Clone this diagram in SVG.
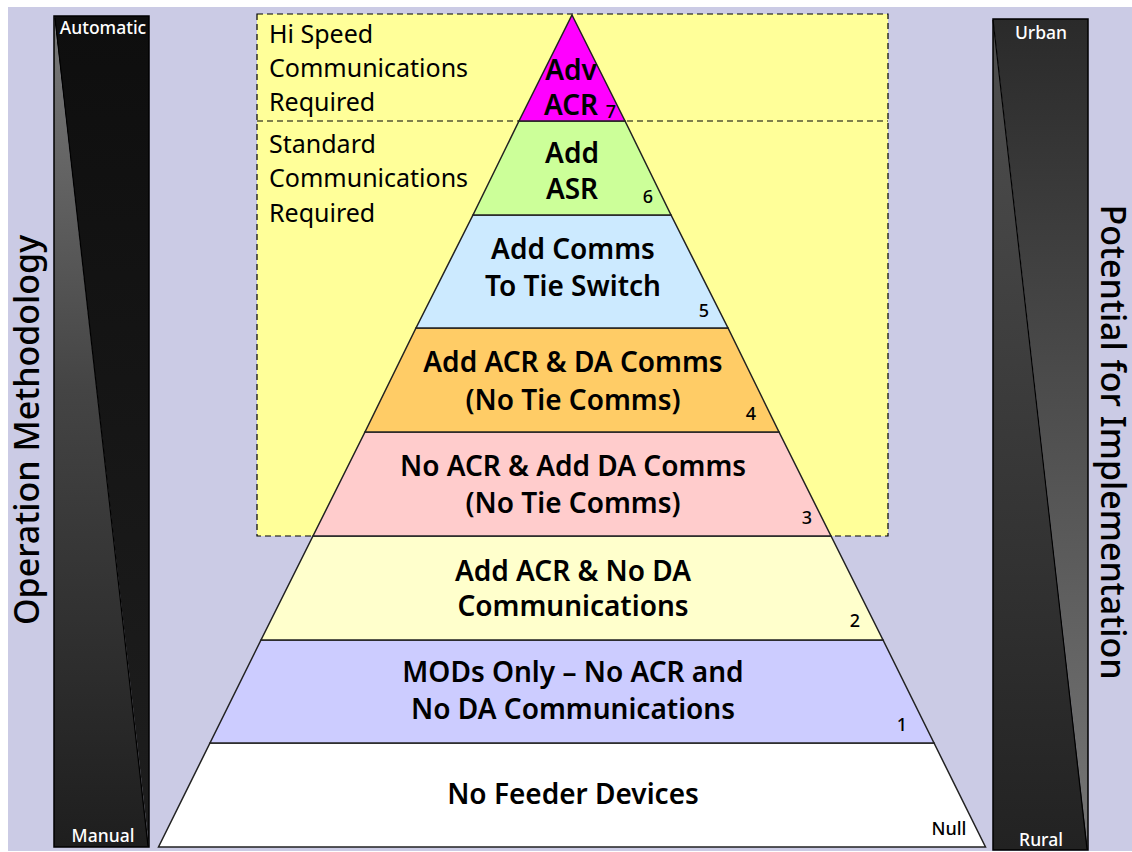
<svg xmlns="http://www.w3.org/2000/svg" width="1132" height="852" viewBox="0 0 1132 852">
<defs>
<linearGradient id="lgL1" x1="0" y1="0" x2="0" y2="1"><stop offset="0" stop-color="#7a7a7a"/><stop offset="0.45" stop-color="#444"/><stop offset="1" stop-color="#1e1e1e"/></linearGradient>
<linearGradient id="lgL2" x1="0" y1="0" x2="0" y2="1"><stop offset="0" stop-color="#0e0e0e"/><stop offset="1" stop-color="#1e1e1e"/></linearGradient>
<linearGradient id="lgR1" x1="0" y1="0" x2="0" y2="1"><stop offset="0" stop-color="#505050"/><stop offset="1" stop-color="#222"/></linearGradient>
<linearGradient id="lgR2" x1="0" y1="0" x2="0" y2="1"><stop offset="0" stop-color="#2a2a2a"/><stop offset="1" stop-color="#767676"/></linearGradient>
<style>
.lay{stroke:#222;stroke-width:1.5}
.t{font-family:"Noto Sans","DejaVu Sans",sans-serif;font-weight:600;font-size:28px;fill:#000;text-anchor:middle}
.n{font-family:"Noto Sans","DejaVu Sans",sans-serif;font-weight:500;font-size:18px;fill:#000;text-anchor:middle}
.s{font-family:"Noto Sans","DejaVu Sans",sans-serif;font-size:25px;fill:#000}
.w{font-family:"Noto Sans","DejaVu Sans",sans-serif;font-weight:500;font-size:17.5px;fill:#fff;text-anchor:middle}
.v{font-family:"Noto Sans","DejaVu Sans",sans-serif;font-weight:500;font-size:34px;fill:#000;text-anchor:middle}
</style>
</defs>
<rect x="0" y="0" width="1132" height="852" fill="#ffffff"/>
<rect x="8" y="7" width="1124" height="844" fill="#cbcbe5"/>

<g id="left-bar">
<polygon points="54,16 149,16 149,847" fill="url(#lgL2)"/>
<polygon points="54,16 149,847 54,847" fill="url(#lgL1)"/>
<line x1="55" y1="18" x2="148" y2="846" stroke="#000" stroke-width="1.2"/>
<rect x="54" y="16" width="95" height="831" fill="none" stroke="#000" stroke-width="1.5"/>
<text class="w" x="103" y="34">Automatic</text>
<text class="w" x="103" y="842">Manual</text>
</g>

<g id="right-bar">
<polygon points="993,19 1088,19 1088,850" fill="url(#lgR2)"/>
<polygon points="993,19 1088,850 993,850" fill="url(#lgR1)"/>
<line x1="993" y1="20" x2="1087" y2="849" stroke="#000" stroke-width="1.2"/>
<rect x="993" y="19" width="95" height="831" fill="none" stroke="#000" stroke-width="1.5"/>
<text class="w" x="1041" y="39">Urban</text>
<text class="w" x="1041" y="846">Rural</text>
</g>

<g id="label-operation">
<text class="v" transform="translate(39,430) rotate(-90)">Operation Methodology</text>
</g>
<g id="label-potential">
<text class="v" transform="translate(1101,442) rotate(90)">Potential for Implementation</text>
</g>

<g id="comms-box">
<rect x="257" y="14" width="631" height="522" fill="#ffff99" stroke="#000" stroke-width="1.2" stroke-dasharray="6,4"/>
<line x1="257" y1="121" x2="888" y2="121" stroke="#000" stroke-width="1.2" stroke-dasharray="6,4"/>
<text class="s" x="269" y="43">Hi Speed</text>
<text class="s" x="269" y="77">Communications</text>
<text class="s" x="269" y="111">Required</text>
<text class="s" x="269" y="153">Standard</text>
<text class="s" x="269" y="187">Communications</text>
<text class="s" x="269" y="222">Required</text>
</g>

<g id="level-null">
<polygon class="lay" points="210,743 934,743 985.5,847 158.5,847" fill="#ffffff"/>
<text class="t" x="573" y="804">No Feeder Devices</text>
<text class="n" x="949" y="835">Null</text>
</g>
<g id="level-1">
<polygon class="lay" points="261,640 883,640 934,743 210,743" fill="#ccccff"/>
<text class="t" x="573" y="682">MODs Only – No ACR and</text>
<text class="t" x="573" y="719">No DA Communications</text>
<text class="n" x="902" y="731">1</text>
</g>
<g id="level-2">
<polygon class="lay" points="313,536 831,536 883,640 261,640" fill="#ffffcc"/>
<text class="t" x="573" y="581">Add ACR &amp; No DA</text>
<text class="t" x="573" y="616">Communications</text>
<text class="n" x="855" y="627">2</text>
</g>
<g id="level-3">
<polygon class="lay" points="365,432 779,432 831,536 313,536" fill="#ffcccc"/>
<text class="t" x="573" y="476">No ACR &amp; Add DA Comms</text>
<text class="t" x="573" y="513">(No Tie Comms)</text>
<text class="n" x="807" y="524">3</text>
</g>
<g id="level-4">
<polygon class="lay" points="416,328 728,328 779,432 365,432" fill="#ffcc66"/>
<text class="t" x="573" y="372">Add ACR &amp; DA Comms</text>
<text class="t" x="573" y="410">(No Tie Comms)</text>
<text class="n" x="751" y="420">4</text>
</g>
<g id="level-5">
<polygon class="lay" points="473,215 671,215 728,328 416,328" fill="#cceaff"/>
<text class="t" x="573" y="259">Add Comms</text>
<text class="t" x="573" y="296">To Tie Switch</text>
<text class="n" x="704" y="317">5</text>
</g>
<g id="level-6">
<polygon class="lay" points="519,121 625,121 671,215 473,215" fill="#ccff99"/>
<text class="t" x="572" y="163">Add</text>
<text class="t" x="572" y="199">ASR</text>
<text class="n" x="648" y="203">6</text>
</g>
<g id="level-7">
<polygon class="lay" points="572,15 625,121 519,121" fill="#ff00ff"/>
<text class="t" x="571" y="80">Adv</text>
<text class="t" x="571" y="115">ACR</text>
<text class="n" x="611" y="118">7</text>
</g>
</svg>
